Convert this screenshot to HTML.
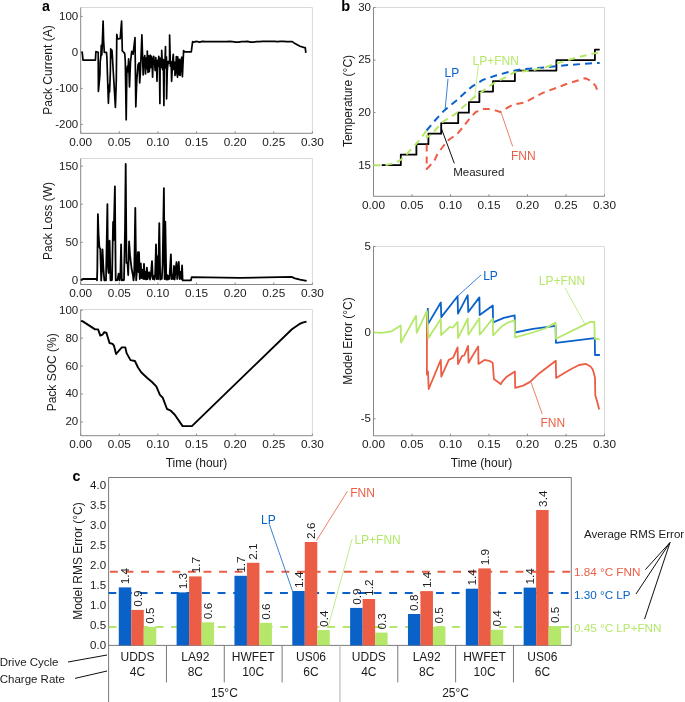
<!DOCTYPE html>
<html><head><meta charset="utf-8"><style>
html,body{margin:0;padding:0;background:#fff;}
svg{display:block;font-family:"Liberation Sans",sans-serif;will-change:transform;}
</style></head><body>
<svg width="685" height="702" viewBox="0 0 685 702">
<rect width="685" height="702" fill="#fff"/>
<line x1="80.70" y1="7.50" x2="312.40" y2="7.50" stroke="#d9d9d9" stroke-width="1" />
<line x1="312.40" y1="7.50" x2="312.40" y2="133.30" stroke="#d9d9d9" stroke-width="1" />
<line x1="80.70" y1="7.50" x2="80.70" y2="133.30" stroke="#888888" stroke-width="1" />
<line x1="80.70" y1="133.30" x2="312.40" y2="133.30" stroke="#888888" stroke-width="1" />
<line x1="80.70" y1="16.40" x2="82.70" y2="16.40" stroke="#888888" stroke-width="1" />
<text x="78.20" y="19.80" text-anchor="end" fill="#1a1a1a" font-size="11.5" >100</text>
<line x1="80.70" y1="52.40" x2="82.70" y2="52.40" stroke="#888888" stroke-width="1" />
<text x="78.20" y="55.80" text-anchor="end" fill="#1a1a1a" font-size="11.5" >0</text>
<line x1="80.70" y1="88.40" x2="82.70" y2="88.40" stroke="#888888" stroke-width="1" />
<text x="78.20" y="91.80" text-anchor="end" fill="#1a1a1a" font-size="11.5" >-100</text>
<line x1="80.70" y1="124.40" x2="82.70" y2="124.40" stroke="#888888" stroke-width="1" />
<text x="78.20" y="127.80" text-anchor="end" fill="#1a1a1a" font-size="11.5" >-200</text>
<line x1="80.70" y1="133.30" x2="80.70" y2="131.30" stroke="#888888" stroke-width="1" />
<text x="80.70" y="145.60" text-anchor="middle" fill="#1a1a1a" font-size="11.8" >0.00</text>
<line x1="119.32" y1="133.30" x2="119.32" y2="131.30" stroke="#888888" stroke-width="1" />
<text x="119.32" y="145.60" text-anchor="middle" fill="#1a1a1a" font-size="11.8" >0.05</text>
<line x1="157.93" y1="133.30" x2="157.93" y2="131.30" stroke="#888888" stroke-width="1" />
<text x="157.93" y="145.60" text-anchor="middle" fill="#1a1a1a" font-size="11.8" >0.10</text>
<line x1="196.55" y1="133.30" x2="196.55" y2="131.30" stroke="#888888" stroke-width="1" />
<text x="196.55" y="145.60" text-anchor="middle" fill="#1a1a1a" font-size="11.8" >0.15</text>
<line x1="235.17" y1="133.30" x2="235.17" y2="131.30" stroke="#888888" stroke-width="1" />
<text x="235.17" y="145.60" text-anchor="middle" fill="#1a1a1a" font-size="11.8" >0.20</text>
<line x1="273.78" y1="133.30" x2="273.78" y2="131.30" stroke="#888888" stroke-width="1" />
<text x="273.78" y="145.60" text-anchor="middle" fill="#1a1a1a" font-size="11.8" >0.25</text>
<line x1="312.40" y1="133.30" x2="312.40" y2="131.30" stroke="#888888" stroke-width="1" />
<text x="312.40" y="145.60" text-anchor="middle" fill="#1a1a1a" font-size="11.8" >0.30</text>
<text x="52.00" y="70.00" text-anchor="middle" fill="#1a1a1a" font-size="12" transform="rotate(-90 52 70)">Pack Current (A)</text>
<polyline points="81.40,51.90 82.20,52.20 83.00,60.10 95.40,60.10 95.90,51.60 98.20,52.20 98.40,91.40 99.00,85.00 99.90,75.00 100.20,62.00 100.80,57.00 101.30,45.30 101.80,55.00 102.20,46.00 103.10,21.10 103.60,40.00 104.30,52.40 106.50,52.40 106.90,58.00 108.40,103.30 109.20,85.00 109.60,92.00 110.40,70.00 110.70,48.80 111.50,58.00 111.90,50.00 112.40,56.00 112.70,62.00 115.40,107.40 116.30,80.00 116.80,34.30 117.50,38.90 120.20,38.60 121.60,21.10 122.30,50.80 124.00,52.50 124.80,54.00 125.30,62.00 126.20,119.80 126.60,90.00 126.90,70.00 127.50,66.00 128.00,72.00 128.60,58.80 129.50,86.90 130.50,62.00 131.70,51.40 133.10,54.20 135.00,37.70 135.80,106.80 136.80,80.00 138.00,65.00 139.10,62.80 139.70,82.90 140.50,70.00 141.90,34.80 142.50,54.20 143.20,75.00 143.80,60.00 144.80,55.70 145.50,74.00 146.20,58.00 146.60,68.76 147.22,60.06 147.30,51.10 147.80,66.64 148.00,72.50 148.52,55.91 149.29,71.63 150.04,55.99 150.30,55.20 150.63,67.75 151.55,56.37 152.20,65.73 152.60,77.20 153.18,59.54 153.80,56.40 153.91,62.24 154.48,61.51 155.16,70.56 155.76,57.66 156.68,70.19 157.00,81.30 157.49,60.47 158.21,66.52 158.79,56.42 159.43,65.20 159.90,103.40 160.17,58.20 160.98,67.47 161.67,61.56 161.70,50.30 162.53,69.56 163.34,59.68 163.90,105.50 164.29,64.71 164.97,62.86 165.50,46.50 165.57,67.82 166.46,57.06 166.60,98.80 167.23,71.61 168.08,61.35 168.89,63.25 169.58,60.87 169.60,35.00 170.40,66.20 171.15,61.88 171.60,81.30 172.13,71.26 172.98,56.92 173.30,54.40 173.84,69.53 174.84,62.25 175.00,75.40 175.52,72.14 176.37,56.66 176.40,58.50 177.13,74.32 177.50,77.20 177.73,56.91 178.62,74.71 179.29,59.24 180.00,75.40 180.23,75.19 180.98,60.35 181.80,57.20 181.93,67.81 182.40,76.60 183.60,50.60 184.50,51.90 191.30,51.90 192.60,41.70 193.50,42.10 196.50,41.40 199.50,42.10 202.50,41.40 205.50,41.70 208.50,41.70 211.50,41.70 214.50,41.70 217.50,41.70 220.50,41.70 223.50,41.70 226.50,41.70 229.50,41.40 232.50,41.70 235.50,42.10 238.50,42.10 241.50,41.70 244.50,41.70 247.50,41.40 250.50,42.10 253.50,42.10 256.50,41.70 259.50,41.70 262.50,41.40 265.50,41.40 268.50,41.40 271.50,41.40 274.50,41.40 277.50,41.70 280.50,41.40 283.50,41.40 286.50,41.70 289.50,41.70 292.30,41.60 295.00,43.60 300.00,46.20 305.30,47.90 305.80,52.90" fill="none" stroke="#000" stroke-width="1.7" stroke-linejoin="round" />
<line x1="80.70" y1="158.50" x2="312.40" y2="158.50" stroke="#d9d9d9" stroke-width="1" />
<line x1="312.40" y1="158.50" x2="312.40" y2="284.50" stroke="#d9d9d9" stroke-width="1" />
<line x1="80.70" y1="158.50" x2="80.70" y2="284.50" stroke="#888888" stroke-width="1" />
<line x1="80.70" y1="284.50" x2="312.40" y2="284.50" stroke="#888888" stroke-width="1" />
<line x1="80.70" y1="280.40" x2="82.70" y2="280.40" stroke="#888888" stroke-width="1" />
<text x="78.20" y="283.80" text-anchor="end" fill="#1a1a1a" font-size="11.5" >0</text>
<line x1="80.70" y1="242.33" x2="82.70" y2="242.33" stroke="#888888" stroke-width="1" />
<text x="78.20" y="245.73" text-anchor="end" fill="#1a1a1a" font-size="11.5" >50</text>
<line x1="80.70" y1="204.27" x2="82.70" y2="204.27" stroke="#888888" stroke-width="1" />
<text x="78.20" y="207.67" text-anchor="end" fill="#1a1a1a" font-size="11.5" >100</text>
<line x1="80.70" y1="166.20" x2="82.70" y2="166.20" stroke="#888888" stroke-width="1" />
<text x="78.20" y="169.60" text-anchor="end" fill="#1a1a1a" font-size="11.5" >150</text>
<line x1="80.70" y1="284.50" x2="80.70" y2="282.50" stroke="#888888" stroke-width="1" />
<text x="80.70" y="296.80" text-anchor="middle" fill="#1a1a1a" font-size="11.8" >0.00</text>
<line x1="119.32" y1="284.50" x2="119.32" y2="282.50" stroke="#888888" stroke-width="1" />
<text x="119.32" y="296.80" text-anchor="middle" fill="#1a1a1a" font-size="11.8" >0.05</text>
<line x1="157.93" y1="284.50" x2="157.93" y2="282.50" stroke="#888888" stroke-width="1" />
<text x="157.93" y="296.80" text-anchor="middle" fill="#1a1a1a" font-size="11.8" >0.10</text>
<line x1="196.55" y1="284.50" x2="196.55" y2="282.50" stroke="#888888" stroke-width="1" />
<text x="196.55" y="296.80" text-anchor="middle" fill="#1a1a1a" font-size="11.8" >0.15</text>
<line x1="235.17" y1="284.50" x2="235.17" y2="282.50" stroke="#888888" stroke-width="1" />
<text x="235.17" y="296.80" text-anchor="middle" fill="#1a1a1a" font-size="11.8" >0.20</text>
<line x1="273.78" y1="284.50" x2="273.78" y2="282.50" stroke="#888888" stroke-width="1" />
<text x="273.78" y="296.80" text-anchor="middle" fill="#1a1a1a" font-size="11.8" >0.25</text>
<line x1="312.40" y1="284.50" x2="312.40" y2="282.50" stroke="#888888" stroke-width="1" />
<text x="312.40" y="296.80" text-anchor="middle" fill="#1a1a1a" font-size="11.8" >0.30</text>
<text x="52.00" y="221.00" text-anchor="middle" fill="#1a1a1a" font-size="12" transform="rotate(-90 52 221)">Pack Loss (W)</text>
<polyline points="81.00,280.40 82.60,279.00 96.50,279.00 97.00,280.30 97.30,270.00 97.90,214.20 98.60,235.00 99.40,247.20 100.30,249.00 101.20,280.50 101.90,270.00 102.50,249.30 103.40,268.00 104.30,280.30 106.00,280.30 107.40,204.20 107.90,265.00 108.60,273.00 109.20,245.00 109.60,240.70 110.50,280.30 112.00,280.00 113.10,222.00 113.60,240.00 114.90,186.40 115.70,280.30 117.50,280.00 118.60,273.60 119.60,280.30 120.40,275.00 121.10,244.30 121.80,280.30 124.00,280.00 125.00,230.00 125.70,163.90 126.50,262.90 127.50,262.90 128.20,275.00 129.10,241.40 130.00,255.00 131.50,268.00 132.90,275.00 133.50,280.30 134.20,275.00 135.30,207.80 136.20,280.30 137.00,270.00 137.90,252.10 138.60,272.00 139.00,252.20 139.80,279.00 140.80,263.50 141.60,278.00 142.50,270.00 143.20,279.00 144.00,263.80 144.70,279.00 145.40,272.00 146.20,279.50 146.90,267.60 147.60,279.00 148.40,274.00 149.20,272.20 150.00,279.50 150.80,276.00 152.00,261.10 152.80,279.00 153.60,276.00 154.40,279.50 155.20,274.00 156.00,244.40 156.70,279.00 157.40,256.30 158.20,279.00 159.30,223.10 160.20,279.50 161.00,276.00 161.80,279.00 162.60,265.00 163.90,188.10 164.60,279.00 165.30,221.60 166.30,279.50 167.00,275.00 167.80,279.50 168.60,276.00 169.40,279.00 170.90,254.30 171.60,279.00 172.40,275.00 173.20,279.00 174.00,266.00 174.70,279.50 175.50,271.00 176.50,262.10 177.20,279.00 178.00,270.00 178.80,262.00 179.60,279.00 180.40,272.00 181.20,279.00 182.10,265.50 182.60,280.30 191.00,280.30 191.60,277.10 240.00,277.90 291.40,276.80 295.00,278.30 300.00,279.60 306.60,280.90" fill="none" stroke="#000" stroke-width="1.8" stroke-linejoin="round" />
<line x1="80.70" y1="309.50" x2="312.40" y2="309.50" stroke="#d9d9d9" stroke-width="1" />
<line x1="312.40" y1="309.50" x2="312.40" y2="435.70" stroke="#d9d9d9" stroke-width="1" />
<line x1="80.70" y1="309.50" x2="80.70" y2="435.70" stroke="#888888" stroke-width="1" />
<line x1="80.70" y1="435.70" x2="312.40" y2="435.70" stroke="#888888" stroke-width="1" />
<line x1="80.70" y1="422.04" x2="82.70" y2="422.04" stroke="#888888" stroke-width="1" />
<text x="78.20" y="425.44" text-anchor="end" fill="#1a1a1a" font-size="11.5" >20</text>
<line x1="80.70" y1="394.08" x2="82.70" y2="394.08" stroke="#888888" stroke-width="1" />
<text x="78.20" y="397.48" text-anchor="end" fill="#1a1a1a" font-size="11.5" >40</text>
<line x1="80.70" y1="366.12" x2="82.70" y2="366.12" stroke="#888888" stroke-width="1" />
<text x="78.20" y="369.52" text-anchor="end" fill="#1a1a1a" font-size="11.5" >60</text>
<line x1="80.70" y1="338.16" x2="82.70" y2="338.16" stroke="#888888" stroke-width="1" />
<text x="78.20" y="341.56" text-anchor="end" fill="#1a1a1a" font-size="11.5" >80</text>
<line x1="80.70" y1="310.20" x2="82.70" y2="310.20" stroke="#888888" stroke-width="1" />
<text x="78.20" y="313.60" text-anchor="end" fill="#1a1a1a" font-size="11.5" >100</text>
<line x1="80.70" y1="435.70" x2="80.70" y2="433.70" stroke="#888888" stroke-width="1" />
<text x="80.70" y="448.00" text-anchor="middle" fill="#1a1a1a" font-size="11.8" >0.00</text>
<line x1="119.32" y1="435.70" x2="119.32" y2="433.70" stroke="#888888" stroke-width="1" />
<text x="119.32" y="448.00" text-anchor="middle" fill="#1a1a1a" font-size="11.8" >0.05</text>
<line x1="157.93" y1="435.70" x2="157.93" y2="433.70" stroke="#888888" stroke-width="1" />
<text x="157.93" y="448.00" text-anchor="middle" fill="#1a1a1a" font-size="11.8" >0.10</text>
<line x1="196.55" y1="435.70" x2="196.55" y2="433.70" stroke="#888888" stroke-width="1" />
<text x="196.55" y="448.00" text-anchor="middle" fill="#1a1a1a" font-size="11.8" >0.15</text>
<line x1="235.17" y1="435.70" x2="235.17" y2="433.70" stroke="#888888" stroke-width="1" />
<text x="235.17" y="448.00" text-anchor="middle" fill="#1a1a1a" font-size="11.8" >0.20</text>
<line x1="273.78" y1="435.70" x2="273.78" y2="433.70" stroke="#888888" stroke-width="1" />
<text x="273.78" y="448.00" text-anchor="middle" fill="#1a1a1a" font-size="11.8" >0.25</text>
<line x1="312.40" y1="435.70" x2="312.40" y2="433.70" stroke="#888888" stroke-width="1" />
<text x="312.40" y="448.00" text-anchor="middle" fill="#1a1a1a" font-size="11.8" >0.30</text>
<text x="56.50" y="372.30" text-anchor="middle" fill="#1a1a1a" font-size="12" transform="rotate(-90 56.5 372.3)">Pack SOC (%)</text>
<polyline points="80.90,321.10 82.40,321.10 95.10,329.40 98.10,329.40 100.30,335.60 102.50,334.70 104.30,332.10 106.50,333.00 109.50,343.00 112.60,343.90 113.90,345.60 116.10,354.00 121.80,347.40 125.30,347.40 126.60,353.10 130.50,360.10 134.90,361.00 138.00,367.50 141.40,372.50 147.00,377.70 152.00,382.00 156.30,386.30 159.90,394.80 162.70,397.70 167.00,409.00 169.10,409.80 170.50,410.50 174.80,414.70 182.60,426.10 191.90,426.10 291.90,329.30 294.80,327.20 299.20,324.20 302.50,322.70 306.50,321.70" fill="none" stroke="#000" stroke-width="1.9" stroke-linejoin="round" />
<text x="196.50" y="466.80" text-anchor="middle" fill="#1a1a1a" font-size="12" >Time (hour)</text>
<text x="42.00" y="10.70" text-anchor="start" fill="#000" font-size="14.2" font-weight="bold">a</text>
<text x="341.20" y="10.90" text-anchor="start" fill="#000" font-size="14.6" font-weight="bold">b</text>
<text x="72.50" y="480.80" text-anchor="start" fill="#000" font-size="14.2" font-weight="bold">c</text>
<line x1="373.50" y1="7.50" x2="604.50" y2="7.50" stroke="#d9d9d9" stroke-width="1" />
<line x1="604.50" y1="7.50" x2="604.50" y2="196.30" stroke="#d9d9d9" stroke-width="1" />
<line x1="373.50" y1="7.50" x2="373.50" y2="196.30" stroke="#888888" stroke-width="1" />
<line x1="373.50" y1="196.30" x2="604.50" y2="196.30" stroke="#888888" stroke-width="1" />
<line x1="373.50" y1="165.20" x2="375.50" y2="165.20" stroke="#888888" stroke-width="1" />
<text x="371.00" y="168.60" text-anchor="end" fill="#1a1a1a" font-size="11.5" >15</text>
<line x1="373.50" y1="112.63" x2="375.50" y2="112.63" stroke="#888888" stroke-width="1" />
<text x="371.00" y="116.03" text-anchor="end" fill="#1a1a1a" font-size="11.5" >20</text>
<line x1="373.50" y1="60.07" x2="375.50" y2="60.07" stroke="#888888" stroke-width="1" />
<text x="371.00" y="63.47" text-anchor="end" fill="#1a1a1a" font-size="11.5" >25</text>
<line x1="373.50" y1="7.50" x2="375.50" y2="7.50" stroke="#888888" stroke-width="1" />
<text x="371.00" y="10.90" text-anchor="end" fill="#1a1a1a" font-size="11.5" >30</text>
<line x1="373.50" y1="196.30" x2="373.50" y2="194.30" stroke="#888888" stroke-width="1" />
<text x="373.50" y="208.60" text-anchor="middle" fill="#1a1a1a" font-size="11.8" >0.00</text>
<line x1="412.00" y1="196.30" x2="412.00" y2="194.30" stroke="#888888" stroke-width="1" />
<text x="412.00" y="208.60" text-anchor="middle" fill="#1a1a1a" font-size="11.8" >0.05</text>
<line x1="450.50" y1="196.30" x2="450.50" y2="194.30" stroke="#888888" stroke-width="1" />
<text x="450.50" y="208.60" text-anchor="middle" fill="#1a1a1a" font-size="11.8" >0.10</text>
<line x1="489.00" y1="196.30" x2="489.00" y2="194.30" stroke="#888888" stroke-width="1" />
<text x="489.00" y="208.60" text-anchor="middle" fill="#1a1a1a" font-size="11.8" >0.15</text>
<line x1="527.50" y1="196.30" x2="527.50" y2="194.30" stroke="#888888" stroke-width="1" />
<text x="527.50" y="208.60" text-anchor="middle" fill="#1a1a1a" font-size="11.8" >0.20</text>
<line x1="566.00" y1="196.30" x2="566.00" y2="194.30" stroke="#888888" stroke-width="1" />
<text x="566.00" y="208.60" text-anchor="middle" fill="#1a1a1a" font-size="11.8" >0.25</text>
<line x1="604.50" y1="196.30" x2="604.50" y2="194.30" stroke="#888888" stroke-width="1" />
<text x="604.50" y="208.60" text-anchor="middle" fill="#1a1a1a" font-size="11.8" >0.30</text>
<text x="352.00" y="101.00" text-anchor="middle" fill="#1a1a1a" font-size="12" transform="rotate(-90 352 101)">Temperature (°C)</text>
<polyline points="381.70,165.20 400.80,165.20 400.80,154.69 416.40,154.69 416.40,144.17 428.40,144.17 428.40,133.66 441.20,133.66 441.20,123.15 458.20,123.15 458.20,112.63 468.90,112.63 468.90,102.12 479.40,102.12 479.40,91.61 493.00,91.61 493.00,81.10 514.90,81.10 514.90,70.58 556.40,70.58 556.40,60.07 594.90,60.07 594.90,49.56 599.70,49.56" fill="none" stroke="#000" stroke-width="1.8" stroke-linejoin="round" stroke-linejoin="miter"/>
<polyline points="426.70,144.60 426.70,169.00 430.30,165.20 434.90,159.60 437.50,153.80 441.90,148.00 447.70,140.70 452.00,137.50 456.50,134.80 463.80,126.10 470.00,118.00 475.50,112.20 482.80,109.10 488.60,109.10 495.90,110.60 500.30,112.00 507.60,107.70 513.00,104.50 524.30,102.70 532.30,98.30 543.50,92.60 556.40,87.80 569.20,83.00 580.50,79.80 585.30,78.20 591.70,81.40 595.70,86.20 598.90,94.20" fill="none" stroke="#eb5e45" stroke-width="2" stroke-linejoin="round" stroke-dasharray="7 5"/>
<polyline points="426.60,130.50 435.00,120.50 443.40,111.30 456.50,100.40 471.10,87.20 482.80,79.90 495.90,75.50 507.60,72.30 521.10,69.30 537.10,68.10 553.20,66.60 569.20,65.00 585.30,63.70 599.70,62.90" fill="none" stroke="#0a62c9" stroke-width="2" stroke-linejoin="round" stroke-dasharray="7 5"/>
<polyline points="373.50,165.20 383.00,165.20 388.00,164.60 393.00,163.40 397.00,161.80 400.70,159.80 405.00,156.00 410.00,150.50 415.00,145.30 421.00,138.00 426.70,130.40 426.90,137.50 431.30,134.50 435.40,130.00 441.20,123.00 448.00,118.50 455.00,114.20 462.00,108.00 469.60,101.10 475.00,96.50 481.30,92.30 487.00,88.00 493.00,83.60 501.80,79.20 507.00,76.60 514.60,72.20 531.50,70.50 545.10,67.30 561.20,62.10 577.30,57.30 598.10,52.50" fill="none" stroke="#b5e86a" stroke-width="2" stroke-linejoin="round" stroke-dasharray="7 5"/>
<text x="444.60" y="76.50" text-anchor="start" fill="#0a62c9" font-size="12" >LP</text>
<line x1="448.00" y1="78.80" x2="445.10" y2="109.60" stroke="#0a62c9" stroke-width="0.8" />
<text x="472.60" y="65.30" text-anchor="start" fill="#b5e86a" font-size="12" >LP+FNN</text>
<line x1="478.40" y1="64.80" x2="474.70" y2="98.20" stroke="#b5e86a" stroke-width="0.8" />
<line x1="501.00" y1="112.20" x2="512.70" y2="146.50" stroke="#eb5e45" stroke-width="0.8" />
<text x="511.00" y="159.60" text-anchor="start" fill="#eb5e45" font-size="12" >FNN</text>
<line x1="441.60" y1="129.00" x2="454.30" y2="163.30" stroke="#000" stroke-width="0.95" />
<text x="453.20" y="175.70" text-anchor="start" fill="#1a1a1a" font-size="11.5" >Measured</text>
<line x1="373.50" y1="246.40" x2="604.50" y2="246.40" stroke="#d9d9d9" stroke-width="1" />
<line x1="604.50" y1="246.40" x2="604.50" y2="435.80" stroke="#d9d9d9" stroke-width="1" />
<line x1="373.50" y1="246.40" x2="373.50" y2="435.80" stroke="#888888" stroke-width="1" />
<line x1="373.50" y1="435.80" x2="604.50" y2="435.80" stroke="#888888" stroke-width="1" />
<line x1="373.50" y1="418.80" x2="375.50" y2="418.80" stroke="#888888" stroke-width="1" />
<text x="371.00" y="422.20" text-anchor="end" fill="#1a1a1a" font-size="11.5" >-5</text>
<line x1="373.50" y1="332.60" x2="375.50" y2="332.60" stroke="#888888" stroke-width="1" />
<text x="371.00" y="336.00" text-anchor="end" fill="#1a1a1a" font-size="11.5" >0</text>
<line x1="373.50" y1="246.40" x2="375.50" y2="246.40" stroke="#888888" stroke-width="1" />
<text x="371.00" y="249.80" text-anchor="end" fill="#1a1a1a" font-size="11.5" >5</text>
<line x1="373.50" y1="435.80" x2="373.50" y2="433.80" stroke="#888888" stroke-width="1" />
<text x="373.50" y="448.10" text-anchor="middle" fill="#1a1a1a" font-size="11.8" >0.00</text>
<line x1="412.00" y1="435.80" x2="412.00" y2="433.80" stroke="#888888" stroke-width="1" />
<text x="412.00" y="448.10" text-anchor="middle" fill="#1a1a1a" font-size="11.8" >0.05</text>
<line x1="450.50" y1="435.80" x2="450.50" y2="433.80" stroke="#888888" stroke-width="1" />
<text x="450.50" y="448.10" text-anchor="middle" fill="#1a1a1a" font-size="11.8" >0.10</text>
<line x1="489.00" y1="435.80" x2="489.00" y2="433.80" stroke="#888888" stroke-width="1" />
<text x="489.00" y="448.10" text-anchor="middle" fill="#1a1a1a" font-size="11.8" >0.15</text>
<line x1="527.50" y1="435.80" x2="527.50" y2="433.80" stroke="#888888" stroke-width="1" />
<text x="527.50" y="448.10" text-anchor="middle" fill="#1a1a1a" font-size="11.8" >0.20</text>
<line x1="566.00" y1="435.80" x2="566.00" y2="433.80" stroke="#888888" stroke-width="1" />
<text x="566.00" y="448.10" text-anchor="middle" fill="#1a1a1a" font-size="11.8" >0.25</text>
<line x1="604.50" y1="435.80" x2="604.50" y2="433.80" stroke="#888888" stroke-width="1" />
<text x="604.50" y="448.10" text-anchor="middle" fill="#1a1a1a" font-size="11.8" >0.30</text>
<text x="352.00" y="341.00" text-anchor="middle" fill="#1a1a1a" font-size="12" transform="rotate(-90 352 341)">Model Error (°C)</text>
<text x="481.60" y="466.70" text-anchor="middle" fill="#1a1a1a" font-size="12" >Time (hour)</text>
<polyline points="426.90,311.00 426.90,374.50 428.00,371.50 428.70,389.00 440.80,359.90 441.30,376.60 448.80,359.90 453.20,357.70 457.60,347.40 458.00,364.20 462.00,356.20 464.20,355.50 468.10,345.90 468.50,362.70 478.20,346.40 478.50,363.90 484.50,359.90 489.20,360.80 492.70,362.70 493.90,379.00 500.90,384.20 502.00,381.90 506.70,376.70 514.90,371.60 515.20,387.90 523.10,385.60 530.10,381.90 539.40,373.20 555.80,360.80 556.10,377.90 569.80,369.70 579.10,365.00 586.10,363.90 590.50,366.50 592.80,369.50 595.00,377.40 595.30,395.40 597.00,401.00 599.20,409.50" fill="none" stroke="#eb5e45" stroke-width="1.8" stroke-linejoin="round" />
<polyline points="427.80,307.90 428.10,323.90 440.80,302.50 441.30,317.10 457.60,296.20 458.00,313.70 467.70,295.20 468.30,312.00 479.40,297.40 479.70,315.00 492.80,305.50 493.10,322.30 503.80,317.90 514.70,315.40 515.00,332.50 533.00,328.80 555.60,325.90 555.90,342.80 594.80,338.20 595.00,355.00 599.90,355.00" fill="none" stroke="#0a62c9" stroke-width="1.8" stroke-linejoin="round" />
<polyline points="373.60,332.40 381.70,332.80 391.20,331.40 400.70,325.50 401.00,342.60 416.00,315.80 416.70,332.80 426.90,311.00 428.40,338.00 440.80,319.00 441.10,335.00 445.90,330.70 449.60,327.00 452.50,327.70 453.90,326.30 457.60,321.90 458.00,338.20 467.80,318.50 468.30,334.70 479.40,318.30 479.70,334.70 492.80,318.60 493.10,335.40 502.30,325.90 508.00,322.50 514.70,320.40 515.00,337.30 533.00,332.50 545.00,328.50 555.60,322.60 556.00,338.80 585.20,324.40 590.00,322.00 594.40,321.80 594.70,338.60 599.60,339.50" fill="none" stroke="#b5e86a" stroke-width="1.8" stroke-linejoin="round" />
<text x="483.20" y="279.60" text-anchor="start" fill="#0a62c9" font-size="12" >LP</text>
<line x1="481.20" y1="274.80" x2="457.60" y2="296.20" stroke="#0a62c9" stroke-width="0.8" />
<text x="538.80" y="284.70" text-anchor="start" fill="#b5e86a" font-size="12" >LP+FNN</text>
<line x1="565.20" y1="288.20" x2="584.90" y2="324.10" stroke="#b5e86a" stroke-width="0.8" />
<text x="540.40" y="426.90" text-anchor="start" fill="#eb5e45" font-size="12" >FNN</text>
<line x1="531.20" y1="382.60" x2="542.20" y2="414.10" stroke="#eb5e45" stroke-width="0.8" />
<line x1="108.60" y1="477.50" x2="571.30" y2="477.50" stroke="#7a7a7a" stroke-width="1" />
<line x1="571.30" y1="477.50" x2="571.30" y2="645.40" stroke="#7a7a7a" stroke-width="1" />
<line x1="108.60" y1="477.50" x2="108.60" y2="702.00" stroke="#7a7a7a" stroke-width="1" />
<line x1="108.60" y1="645.40" x2="571.30" y2="645.40" stroke="#7a7a7a" stroke-width="1" />
<text x="106.10" y="648.80" text-anchor="end" fill="#1a1a1a" font-size="11.5" >0.0</text>
<text x="106.10" y="628.80" text-anchor="end" fill="#1a1a1a" font-size="11.5" >0.5</text>
<text x="106.10" y="608.80" text-anchor="end" fill="#1a1a1a" font-size="11.5" >1.0</text>
<text x="106.10" y="588.80" text-anchor="end" fill="#1a1a1a" font-size="11.5" >1.5</text>
<text x="106.10" y="568.80" text-anchor="end" fill="#1a1a1a" font-size="11.5" >2.0</text>
<text x="106.10" y="548.80" text-anchor="end" fill="#1a1a1a" font-size="11.5" >2.5</text>
<text x="106.10" y="528.80" text-anchor="end" fill="#1a1a1a" font-size="11.5" >3.0</text>
<text x="106.10" y="508.80" text-anchor="end" fill="#1a1a1a" font-size="11.5" >3.5</text>
<text x="106.10" y="488.80" text-anchor="end" fill="#1a1a1a" font-size="11.5" >4.0</text>
<text x="81.50" y="561.00" text-anchor="middle" fill="#1a1a1a" font-size="12" transform="rotate(-90 81.5 561)">Model RMS Error (°C)</text>
<line x1="109.90" y1="571.80" x2="570.50" y2="571.80" stroke="#eb5e45" stroke-width="2" stroke-dasharray="7.9 7.7"/>
<line x1="108.40" y1="593.10" x2="570.50" y2="593.10" stroke="#0a62c9" stroke-width="2" stroke-dasharray="7.9 7.7"/>
<line x1="108.70" y1="627.00" x2="570.50" y2="627.00" stroke="#b5e86a" stroke-width="2" stroke-dasharray="7.9 7.7"/>
<rect x="118.77" y="587.40" width="12.50" height="58.00" fill="#0a62c9"/>
<text x="129.22" y="584.30" fill="#1a1a1a" font-size="11.8" transform="rotate(-90 129.22 584.30)">1.4</text>
<rect x="131.27" y="609.90" width="12.50" height="35.50" fill="#eb5e45"/>
<text x="141.72" y="606.80" fill="#1a1a1a" font-size="11.8" transform="rotate(-90 141.72 606.80)">0.9</text>
<rect x="143.77" y="626.90" width="12.50" height="18.50" fill="#b5e86a"/>
<text x="154.22" y="623.80" fill="#1a1a1a" font-size="11.8" transform="rotate(-90 154.22 623.80)">0.5</text>
<rect x="176.61" y="592.40" width="12.50" height="53.00" fill="#0a62c9"/>
<text x="187.06" y="589.30" fill="#1a1a1a" font-size="11.8" transform="rotate(-90 187.06 589.30)">1.3</text>
<rect x="189.11" y="576.40" width="12.50" height="69.00" fill="#eb5e45"/>
<text x="199.56" y="573.30" fill="#1a1a1a" font-size="11.8" transform="rotate(-90 199.56 573.30)">1.7</text>
<rect x="201.61" y="622.28" width="12.50" height="23.12" fill="#b5e86a"/>
<text x="212.06" y="619.18" fill="#1a1a1a" font-size="11.8" transform="rotate(-90 212.06 619.18)">0.6</text>
<rect x="234.44" y="575.80" width="12.50" height="69.60" fill="#0a62c9"/>
<text x="244.89" y="572.70" fill="#1a1a1a" font-size="11.8" transform="rotate(-90 244.89 572.70)">1.7</text>
<rect x="246.94" y="562.80" width="12.50" height="82.60" fill="#eb5e45"/>
<text x="257.39" y="559.70" fill="#1a1a1a" font-size="11.8" transform="rotate(-90 257.39 559.70)">2.1</text>
<rect x="259.44" y="622.80" width="12.50" height="22.60" fill="#b5e86a"/>
<text x="269.89" y="619.70" fill="#1a1a1a" font-size="11.8" transform="rotate(-90 269.89 619.70)">0.6</text>
<rect x="292.28" y="591.00" width="12.50" height="54.40" fill="#0a62c9"/>
<text x="302.73" y="587.90" fill="#1a1a1a" font-size="11.8" transform="rotate(-90 302.73 587.90)">1.4</text>
<rect x="304.78" y="542.00" width="12.50" height="103.40" fill="#eb5e45"/>
<text x="315.23" y="538.90" fill="#1a1a1a" font-size="11.8" transform="rotate(-90 315.23 538.90)">2.6</text>
<rect x="317.28" y="630.00" width="12.50" height="15.40" fill="#b5e86a"/>
<text x="327.73" y="626.90" fill="#1a1a1a" font-size="11.8" transform="rotate(-90 327.73 626.90)">0.4</text>
<rect x="350.12" y="607.90" width="12.50" height="37.50" fill="#0a62c9"/>
<text x="360.57" y="604.80" fill="#1a1a1a" font-size="11.8" transform="rotate(-90 360.57 604.80)">0.9</text>
<rect x="362.62" y="599.00" width="12.50" height="46.40" fill="#eb5e45"/>
<text x="373.07" y="595.90" fill="#1a1a1a" font-size="11.8" transform="rotate(-90 373.07 595.90)">1.2</text>
<rect x="375.12" y="632.60" width="12.50" height="12.80" fill="#b5e86a"/>
<text x="385.57" y="629.50" fill="#1a1a1a" font-size="11.8" transform="rotate(-90 385.57 629.50)">0.3</text>
<rect x="407.96" y="614.00" width="12.50" height="31.40" fill="#0a62c9"/>
<text x="418.41" y="610.90" fill="#1a1a1a" font-size="11.8" transform="rotate(-90 418.41 610.90)">0.8</text>
<rect x="420.46" y="591.10" width="12.50" height="54.30" fill="#eb5e45"/>
<text x="430.91" y="588.00" fill="#1a1a1a" font-size="11.8" transform="rotate(-90 430.91 588.00)">1.4</text>
<rect x="432.96" y="626.70" width="12.50" height="18.70" fill="#b5e86a"/>
<text x="443.41" y="623.60" fill="#1a1a1a" font-size="11.8" transform="rotate(-90 443.41 623.60)">0.5</text>
<rect x="465.79" y="588.70" width="12.50" height="56.70" fill="#0a62c9"/>
<text x="476.24" y="585.60" fill="#1a1a1a" font-size="11.8" transform="rotate(-90 476.24 585.60)">1.4</text>
<rect x="478.29" y="568.40" width="12.50" height="77.00" fill="#eb5e45"/>
<text x="488.74" y="565.30" fill="#1a1a1a" font-size="11.8" transform="rotate(-90 488.74 565.30)">1.9</text>
<rect x="490.79" y="629.70" width="12.50" height="15.70" fill="#b5e86a"/>
<text x="501.24" y="626.60" fill="#1a1a1a" font-size="11.8" transform="rotate(-90 501.24 626.60)">0.4</text>
<rect x="523.63" y="587.60" width="12.50" height="57.80" fill="#0a62c9"/>
<text x="534.08" y="584.50" fill="#1a1a1a" font-size="11.8" transform="rotate(-90 534.08 584.50)">1.4</text>
<rect x="536.13" y="510.00" width="12.50" height="135.40" fill="#eb5e45"/>
<text x="546.58" y="506.90" fill="#1a1a1a" font-size="11.8" transform="rotate(-90 546.58 506.90)">3.4</text>
<rect x="548.63" y="626.10" width="12.50" height="19.30" fill="#b5e86a"/>
<text x="559.08" y="623.00" fill="#1a1a1a" font-size="11.8" transform="rotate(-90 559.08 623.00)">0.5</text>
<text x="137.52" y="661.20" text-anchor="middle" fill="#1a1a1a" font-size="12" >UDDS</text>
<text x="137.52" y="675.60" text-anchor="middle" fill="#1a1a1a" font-size="12" >4C</text>
<line x1="166.44" y1="645.40" x2="166.44" y2="682.40" stroke="#7a7a7a" stroke-width="1" />
<text x="195.36" y="661.20" text-anchor="middle" fill="#1a1a1a" font-size="12" >LA92</text>
<text x="195.36" y="675.60" text-anchor="middle" fill="#1a1a1a" font-size="12" >8C</text>
<line x1="224.27" y1="645.40" x2="224.27" y2="682.40" stroke="#7a7a7a" stroke-width="1" />
<text x="253.19" y="661.20" text-anchor="middle" fill="#1a1a1a" font-size="12" >HWFET</text>
<text x="253.19" y="675.60" text-anchor="middle" fill="#1a1a1a" font-size="12" >10C</text>
<line x1="282.11" y1="645.40" x2="282.11" y2="682.40" stroke="#7a7a7a" stroke-width="1" />
<text x="311.03" y="661.20" text-anchor="middle" fill="#1a1a1a" font-size="12" >US06</text>
<text x="311.03" y="675.60" text-anchor="middle" fill="#1a1a1a" font-size="12" >6C</text>
<line x1="339.95" y1="645.40" x2="339.95" y2="702.00" stroke="#b0b0b0" stroke-width="1" />
<text x="368.87" y="661.20" text-anchor="middle" fill="#1a1a1a" font-size="12" >UDDS</text>
<text x="368.87" y="675.60" text-anchor="middle" fill="#1a1a1a" font-size="12" >4C</text>
<line x1="397.79" y1="645.40" x2="397.79" y2="682.40" stroke="#7a7a7a" stroke-width="1" />
<text x="426.71" y="661.20" text-anchor="middle" fill="#1a1a1a" font-size="12" >LA92</text>
<text x="426.71" y="675.60" text-anchor="middle" fill="#1a1a1a" font-size="12" >8C</text>
<line x1="455.62" y1="645.40" x2="455.62" y2="682.40" stroke="#7a7a7a" stroke-width="1" />
<text x="484.54" y="661.20" text-anchor="middle" fill="#1a1a1a" font-size="12" >HWFET</text>
<text x="484.54" y="675.60" text-anchor="middle" fill="#1a1a1a" font-size="12" >10C</text>
<line x1="513.46" y1="645.40" x2="513.46" y2="682.40" stroke="#7a7a7a" stroke-width="1" />
<text x="542.38" y="661.20" text-anchor="middle" fill="#1a1a1a" font-size="12" >US06</text>
<text x="542.38" y="675.60" text-anchor="middle" fill="#1a1a1a" font-size="12" >6C</text>
<text x="224.40" y="696.90" text-anchor="middle" fill="#1a1a1a" font-size="12" >15°C</text>
<text x="455.60" y="696.90" text-anchor="middle" fill="#1a1a1a" font-size="12" >25°C</text>
<text x="-0.30" y="666.00" text-anchor="start" fill="#1a1a1a" font-size="11.5" >Drive Cycle</text>
<text x="-0.30" y="682.60" text-anchor="start" fill="#1a1a1a" font-size="11.5" >Charge Rate</text>
<line x1="68.00" y1="662.00" x2="107.00" y2="655.00" stroke="#000" stroke-width="0.95" />
<line x1="75.00" y1="678.40" x2="107.00" y2="671.00" stroke="#000" stroke-width="0.95" />
<text x="261.00" y="523.60" text-anchor="start" fill="#0a62c9" font-size="12" >LP</text>
<line x1="269.40" y1="524.40" x2="292.50" y2="591.10" stroke="#0a62c9" stroke-width="0.8" />
<text x="350.20" y="496.80" text-anchor="start" fill="#eb5e45" font-size="12" >FNN</text>
<line x1="316.40" y1="540.70" x2="347.50" y2="491.10" stroke="#eb5e45" stroke-width="0.8" />
<text x="354.40" y="544.00" text-anchor="start" fill="#b5e86a" font-size="12" >LP+FNN</text>
<line x1="327.80" y1="628.00" x2="352.20" y2="538.80" stroke="#b5e86a" stroke-width="0.8" />
<text x="584.00" y="538.40" text-anchor="start" fill="#1a1a1a" font-size="11.5" >Average RMS Error</text>
<text x="574.00" y="576.00" text-anchor="start" fill="#eb5e45" font-size="11.7" >1.84 °C FNN</text>
<text x="574.00" y="598.60" text-anchor="start" fill="#0a62c9" font-size="11.7" >1.30 °C LP</text>
<text x="574.00" y="632.00" text-anchor="start" fill="#b5e86a" font-size="11.7" >0.45 °C LP+FNN</text>
<line x1="670.00" y1="542.50" x2="645.40" y2="569.60" stroke="#000" stroke-width="0.95" />
<line x1="670.00" y1="542.50" x2="636.00" y2="594.00" stroke="#000" stroke-width="0.95" />
<line x1="670.00" y1="542.50" x2="644.60" y2="619.00" stroke="#000" stroke-width="0.95" />
</svg></body></html>
